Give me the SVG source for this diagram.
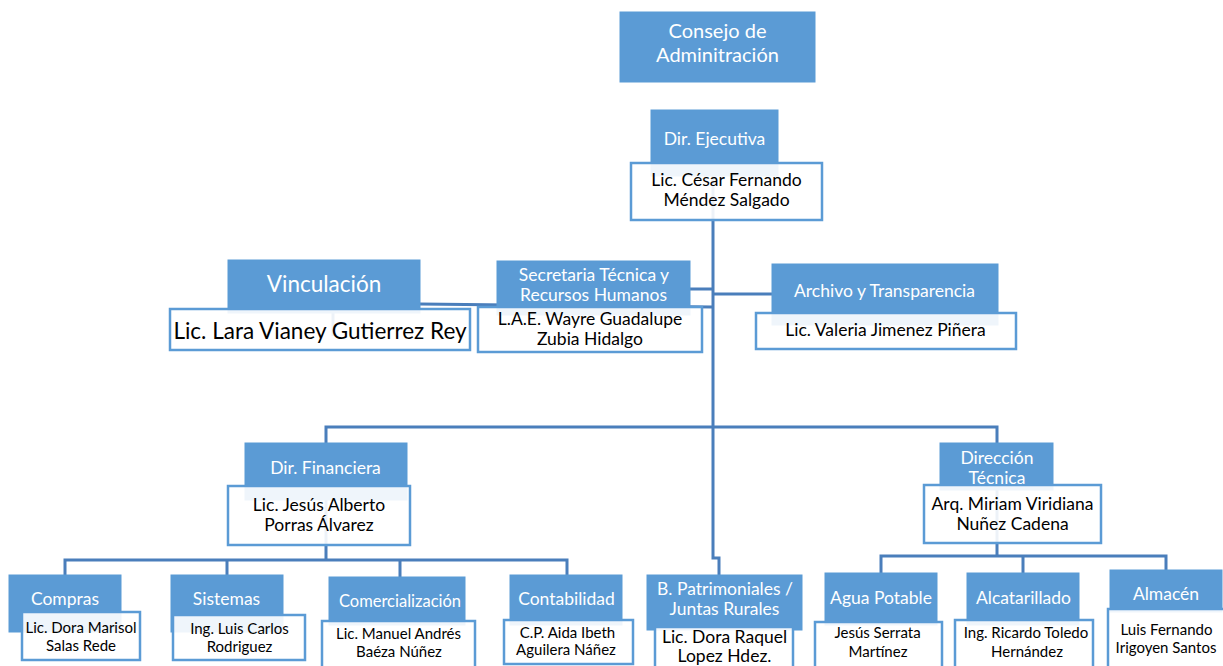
<svg xmlns="http://www.w3.org/2000/svg" width="1223" height="666" viewBox="0 0 1223 666">
<style>
.b{fill:#5b9bd5;stroke:#5b9bd5;stroke-width:1}
.w{fill:#ffffff;fill-opacity:0.9;stroke:#5b9bd5;stroke-width:2.5}
.c{fill:none;stroke:#4a7ebb;stroke-width:3}
text{font-family:Lato,"Liberation Sans",sans-serif;text-anchor:middle}
.tw{fill:#ffffff;font-size:17.5px}
.tk{fill:#000000;font-size:17.5px}
.sk{fill:#000000;font-size:15px}
</style>
<rect width="1223" height="666" fill="#ffffff"/>
<g id="connectors">
<path class="c" d="M713,150 V558 H719 V576"/>
<path class="c" d="M690,289 H713 M713,294 H772"/>
<path class="c" d="M420,304 L713,307"/>
<path class="c" d="M333,300 V336"/>
<path class="c" d="M326,443 V427 H997 V445"/>
<path class="c" d="M326,480 V560 M65,575 V560 H567 V575 M227,560 V575 M400,560 V578"/>
<path class="c" d="M997,470 V556 M881,573 V556 H1166 V572 M1023,556 V574"/>
</g>
<g id="consejo">
<rect class="b" x="620" y="12" width="195" height="70"/>
<text class="tw" style="font-size:20px" x="717.5" y="38">Consejo de</text>
<text class="tw" style="font-size:20px" x="717.5" y="62">Adminitración</text>
</g>
<g id="dir-ejecutiva">
<rect class="b" x="651" y="110" width="127" height="66"/>
<rect class="w" x="631" y="163" width="191" height="57"/>
<text class="tw" x="714.5" y="145">Dir. Ejecutiva</text>
<text class="tk" x="726.5" y="186">Lic. César Fernando</text>
<text class="tk" x="726.5" y="206">Méndez Salgado</text>
</g>
<g id="vinculacion">
<rect class="b" x="228" y="260" width="192" height="53"/>
<rect class="w" x="170" y="309" width="300" height="41"/>
<text class="tw" style="font-size:22.5px" x="324" y="291.5">Vinculación</text>
<text class="tk" style="font-size:22.5px" x="320" y="339">Lic. Lara Vianey Gutierrez Rey</text>
</g>
<g id="secretaria">
<rect class="b" x="497" y="261" width="193" height="54"/>
<rect class="w" x="478" y="307" width="224" height="45"/>
<text class="tw" x="594" y="280.5">Secretaria Técnica y</text>
<text class="tw" x="593.5" y="300.5">Recursos Humanos</text>
<text class="tk" x="590" y="325">L.A.E. Wayre Guadalupe</text>
<text class="tk" x="590" y="345">Zubia Hidalgo</text>
</g>
<g id="archivo">
<rect class="b" x="772" y="264" width="226" height="61"/>
<rect class="w" x="756" y="313" width="260" height="36"/>
<text class="tw" x="884.5" y="296.5">Archivo y Transparencia</text>
<text class="tk" x="885.5" y="336">Lic. Valeria Jimenez Piñera</text>
</g>
<g id="dir-financiera">
<rect class="b" x="245" y="443" width="162" height="57"/>
<rect class="w" x="228" y="486" width="182" height="59"/>
<text class="tw" x="325.5" y="474">Dir. Financiera</text>
<text class="tk" x="319" y="510.5">Lic. Jesús Alberto</text>
<text class="tk" x="319" y="530.5">Porras Álvarez</text>
</g>
<g id="direccion-tecnica">
<rect class="b" x="940" y="443" width="113" height="47"/>
<rect class="w" x="924" y="485" width="177" height="58"/>
<text class="tw" x="997" y="464">Dirección</text>
<text class="tw" x="997" y="483.5">Técnica</text>
<text class="tk" x="1012.5" y="509.5">Arq. Miriam Viridiana</text>
<text class="tk" x="1012.5" y="530">Nuñez Cadena</text>
</g>
<g id="compras">
<rect class="b" x="9" y="575" width="112" height="57"/>
<rect class="w" x="22" y="612" width="118" height="48"/>
<text class="tw" x="65" y="605">Compras</text>
<text class="sk" x="81" y="632.5">Lic. Dora Marisol</text>
<text class="sk" x="81" y="650.5">Salas Rede</text>
</g>
<g id="sistemas">
<rect class="b" x="171" y="575" width="112" height="57"/>
<rect class="w" x="173" y="615" width="132" height="45"/>
<text class="tw" x="226.5" y="605">Sistemas</text>
<text class="sk" x="239.5" y="634">Ing. Luis Carlos</text>
<text class="sk" x="239.5" y="651.5">Rodriguez</text>
</g>
<g id="comercializacion">
<rect class="b" x="329" y="577" width="136" height="48"/>
<rect class="w" x="322" y="621" width="153" height="50"/>
<text class="tw" style="font-size:16.5px" x="400" y="606.5">Comercialización</text>
<text class="sk" x="398.5" y="639">Lic. Manuel Andrés</text>
<text class="sk" x="399" y="656.5">Baéza Núñez</text>
</g>
<g id="contabilidad">
<rect class="b" x="510" y="575" width="112" height="50"/>
<rect class="w" x="504" y="620" width="129" height="44"/>
<text class="tw" x="566.5" y="604.5">Contabilidad</text>
<text class="sk" x="567.5" y="638">C.P. Aida Ibeth</text>
<text class="sk" x="566" y="655">Aguilera Náñez</text>
</g>
<g id="patrimoniales">
<rect class="b" x="647" y="575" width="155" height="55"/>
<rect class="w" x="655" y="627" width="138" height="44"/>
<text class="tw" x="725" y="595">B. Patrimoniales /</text>
<text class="tw" x="724.5" y="615">Juntas Rurales</text>
<text class="tk" x="724.5" y="642.5">Lic. Dora Raquel</text>
<text class="tk" x="724.5" y="661.5">Lopez Hdez.</text>
</g>
<g id="agua-potable">
<rect class="b" x="825" y="573" width="112" height="52"/>
<rect class="w" x="815" y="622" width="127" height="49"/>
<text class="tw" x="881" y="603.5">Agua Potable</text>
<text class="sk" x="877.5" y="638">Jesús Serrata</text>
<text class="sk" x="878" y="656.5">Martínez</text>
</g>
<g id="alcantarillado">
<rect class="b" x="967" y="573" width="112" height="52"/>
<rect class="w" x="955" y="620" width="138" height="51"/>
<text class="tw" x="1023.5" y="603.5">Alcatarillado</text>
<text class="sk" x="1026" y="638">Ing. Ricardo Toledo</text>
<text class="sk" x="1027" y="656.5">Hernández</text>
</g>
<g id="almacen">
<rect class="b" x="1110" y="570" width="112" height="42"/>
<rect class="w" x="1108" y="609" width="118" height="62"/>
<text class="tw" x="1166" y="599.5">Almacén</text>
<text class="sk" x="1166.5" y="635">Luis Fernando</text>
<text class="sk" x="1166" y="652.5">Irigoyen Santos</text>
</g>
</svg>
